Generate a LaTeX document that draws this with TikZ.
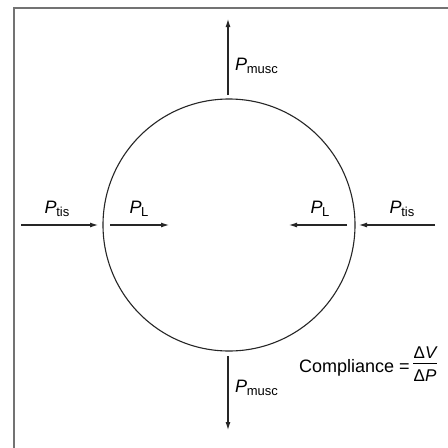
\documentclass[tikz,border=0pt]{standalone}
\usepackage{fontspec}
\setmainfont{Liberation Sans}
\usetikzlibrary{arrows.meta}
\newcommand{\plabel}[1]{{\fontsize{18}{18}\selectfont\itshape P}\kern-0.3pt\raisebox{-3.5pt}{\fontsize{13}{13}\selectfont #1}}
\begin{document}
\begin{tikzpicture}[x=1pt,y=-1pt,
  frameline/.style={draw=black!55,line width=1.8pt},
  force/.style={draw=black!85,line width=1.1pt,-{Latex[length=8pt,width=5pt]}},
  lbl/.style={inner sep=0pt,font=\fontsize{18}{18}\selectfont},
  frac/.style={inner sep=0pt,anchor=base,font=\fontsize{17}{17}\selectfont}]
\useasboundingbox (0,0) rectangle (448,448);
\fill[white] (0,0) rectangle (448,448);
\draw[frameline] (14,449) -- (14,8) -- (449,8);
\node[draw=black!85,line width=1.1pt,circle,minimum size=252pt,inner sep=0pt] (c) at (229,225) {};
% top / bottom
\coordinate (tA) at (228,95);  \coordinate (tB) at (228,19);
\coordinate (bA) at (228,356); \coordinate (bB) at (228,430);
\draw[force] (tA) -- (tB);
\draw[force] (bA) -- (bB);
\node[lbl,anchor=west] (pm1) at (235,66) {\plabel{musc}};
\node[lbl,anchor=west] (pm2) at (235,388) {\plabel{musc}};
% left
\coordinate (l1) at (21,225); \coordinate (l2) at (98,225);
\coordinate (l3) at (110,225); \coordinate (l4) at (169,225);
\draw[force] (l1) -- (l2);
\draw[force] (l3) -- (l4);
\node[lbl] (pt1) at (57,209) {\plabel{tis}};
\node[lbl] (pl1) at (139,209) {\plabel{L}};
% right
\coordinate (r1) at (347,225); \coordinate (r2) at (289,225);
\coordinate (r3) at (435,225); \coordinate (r4) at (359,225);
\draw[force] (r1) -- (r2);
\draw[force] (r3) -- (r4);
\node[lbl] (pl2) at (320,209) {\plabel{L}};
\node[lbl] (pt2) at (402,209) {\plabel{tis}};
% compliance
\node[lbl,anchor=base west] (comp) at (299,372) {Compliance =};
\node[frac] (num) at (425,358) {Δ\itshape V};
\node[frac] (den) at (425,381) {Δ\itshape P};
\draw[line width=1pt] (num.south west |- 0,363) -- (num.south east |- 0,363);
\end{tikzpicture}
\end{document}
